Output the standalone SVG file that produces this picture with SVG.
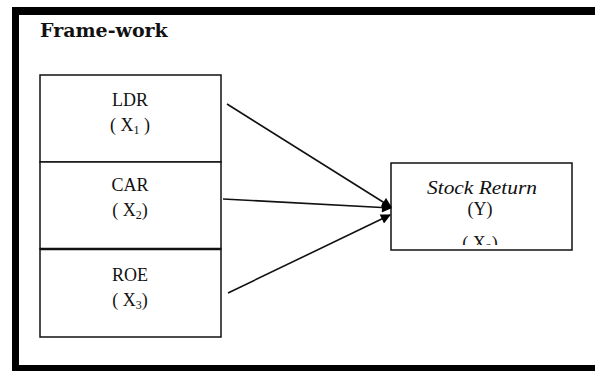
<svg xmlns="http://www.w3.org/2000/svg" width="595" height="371" viewBox="0 0 595 371">
<style>
.box{fill:#fff;stroke:#111;stroke-width:1.5}
.t{font-family:'Liberation Serif','Times New Roman','DejaVu Serif',serif;font-size:18px;fill:#111;text-anchor:middle}
.sub{font-size:12px}
.conn{stroke:#111;stroke-width:1.6;fill:none;marker-end:url(#ah)}
</style>
<defs>
<marker id="ah" viewBox="0 0 10 10" refX="9" refY="5" markerWidth="13" markerHeight="10" markerUnits="userSpaceOnUse" orient="auto">
<path d="M0,0 L10,5 L0,10 Z" fill="#000"/>
</marker>
<clipPath id="clipY"><rect x="392" y="164" width="179" height="81"/></clipPath>
</defs>
<rect width="595" height="371" fill="#fff"/>
<g id="frame">
<rect x="12" y="7" width="583" height="8" fill="#000"/>
<rect x="12" y="7" width="7" height="364" fill="#000"/>
<rect x="12" y="365" width="583" height="6" fill="#000"/>
</g>
<text x="40" y="37" font-family="'DejaVu Serif',serif" font-weight="bold" font-size="19" fill="#111">Frame-work</text>
<g id="ldr">
<rect class="box" x="40" y="75" width="181" height="87"/>
<text class="t" x="130" y="106" font-family="'Liberation Serif',serif">LDR</text>
<text class="t" x="130" y="131" font-family="'Liberation Serif',serif">( X<tspan class="sub" dy="3">1</tspan><tspan dy="-3"> )</tspan></text>
</g>
<g id="car">
<rect class="box" x="40" y="162" width="181" height="87"/>
<text class="t" x="130" y="191" font-family="'Liberation Serif',serif">CAR</text>
<text class="t" x="130" y="216" font-family="'Liberation Serif',serif">( X<tspan class="sub" dy="3">2</tspan><tspan dy="-3">)</tspan></text>
</g>
<g id="roe">
<rect class="box" x="40" y="249" width="181" height="88"/>
<line x1="40" y1="249" x2="221" y2="249" stroke="#111" stroke-width="2.5"/>
<text class="t" x="130" y="281" font-family="'Liberation Serif',serif">ROE</text>
<text class="t" x="130" y="306" font-family="'Liberation Serif',serif">( X<tspan class="sub" dy="3">3</tspan><tspan dy="-3">)</tspan></text>
</g>
<g id="stock">
<rect class="box" x="391" y="163" width="181" height="87"/>
<text class="t" x="482" y="194" font-family="'Liberation Serif',serif" font-style="italic" textLength="110" lengthAdjust="spacingAndGlyphs">Stock Return</text>
<text class="t" x="480" y="215" font-family="'Liberation Serif',serif">(Y)</text>
<g clip-path="url(#clipY)"><text class="t" x="480" y="249" font-family="'Liberation Serif',serif">( X<tspan class="sub" dy="3">2</tspan><tspan dy="-3">)</tspan></text></g>
</g>
<g id="connectors">
<line class="conn" x1="227" y1="104" x2="391" y2="207"/>
<line class="conn" x1="223" y1="199" x2="391" y2="208"/>
<line class="conn" x1="228" y1="293" x2="390" y2="215"/>
</g>
</svg>
